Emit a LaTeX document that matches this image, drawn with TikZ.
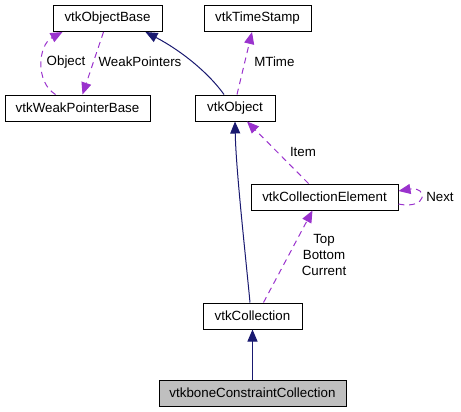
\documentclass[tikz,border=0pt]{standalone}
\usepackage{fontspec}
\setmainfont{Liberation Sans}
\usepackage{tikz}
\usetikzlibrary{positioning, arrows.meta, calc}

\definecolor{inheritblue}{HTML}{191970}
\definecolor{usepurple}{HTML}{9A32CD}

\begin{document}
\begin{tikzpicture}[x=0.75pt, y=-0.75pt, node distance=37.5pt, every node/.style={align=center, font=\fontsize{10}{12}\selectfont}]
\tikzset{
  classbox/.style={
    rectangle, draw=black, line width=0.75pt, inner sep=0pt,
    minimum height=19.5pt, fill=white
  },
  inherit/.style={line width=0.75pt, draw=inheritblue, -{Triangle[length=9pt, width=7.5pt, fill=inheritblue]}},
  usage/.style={line width=0.75pt, draw=usepurple, dash pattern=on 4.5pt off 3.5pt, -{Triangle[length=9pt, width=7.5pt, fill=usepurple]}},
  lbl/.style={inner sep=0pt, align=center}
}
\useasboundingbox (0,0) rectangle (461,411);

\node (objectbase) [classbox, minimum width=81.75pt] at (107.5,18.5) {vtkObjectBase};
\node (weakptrbase) [classbox, minimum width=108.75pt] at (77.5,108) {vtkWeakPointerBase};
\node (timestamp) [classbox, minimum width=80.25pt] at (257.5,18.5) {vtkTimeStamp};
\node (object) [classbox, minimum width=60pt] at (235,108) {vtkObject};
\node (collelement) [classbox, minimum width=110.25pt] at (324.5,197) {vtkCollectionElement};
\node (collection) [classbox, minimum width=74.25pt] at (252.5,316) {vtkCollection};
\node (bonecoll) [classbox, minimum width=140.25pt, fill=black!25, below=of collection] {vtkboneConstraintCollection};

\draw [inherit] ($(object.north)+(-11,0)$) .. controls (208,72) and (180,50) .. ($(objectbase.south)+(38,0)$);
\draw [inherit] ($(collection.north)+(-2.5,0)$) .. controls (245,250) and (236,170) .. (object.south);
\draw [inherit] (bonecoll.north) -- (collection.south);

\draw [usage] ($(object.north)+(2,0)$) -- ($(timestamp.south)+(-5.5,0)$);
\node (mtime) [lbl, anchor=west] at (254,62) {MTime};

\draw [usage] ($(collelement.north)+(-16,0)$) -- ($(object.south)+(12,0)$);
\node (item) [lbl] at (303,152) {Item};

\draw [usage] ($(collelement.east)+(0,7)$) .. controls (428,210) and (428,186) .. ($(collelement.east)+(0,-6)$);
\node (next) [lbl, anchor=west] at (426,197) {Next};

\draw [usage] ($(collection.north)+(11,0)$) -- ($(collelement.south)+(-12,0)$);
\node (topbottom) [lbl] at (324,255) {Top\\Bottom\\Current};

\draw [usage] ($(weakptrbase.north)+(-22,0)$) .. controls (35,82) and (38,45) .. ($(objectbase.south)+(-45,0)$);
\node (objlbl) [lbl] at (66,62) {Object};

\draw [usage] ($(objectbase.south)+(-4,0)$) -- ($(weakptrbase.north)+(5,0)$);
\node (weakptrs) [lbl] at (140,62) {WeakPointers};
\end{tikzpicture}
\end{document}
